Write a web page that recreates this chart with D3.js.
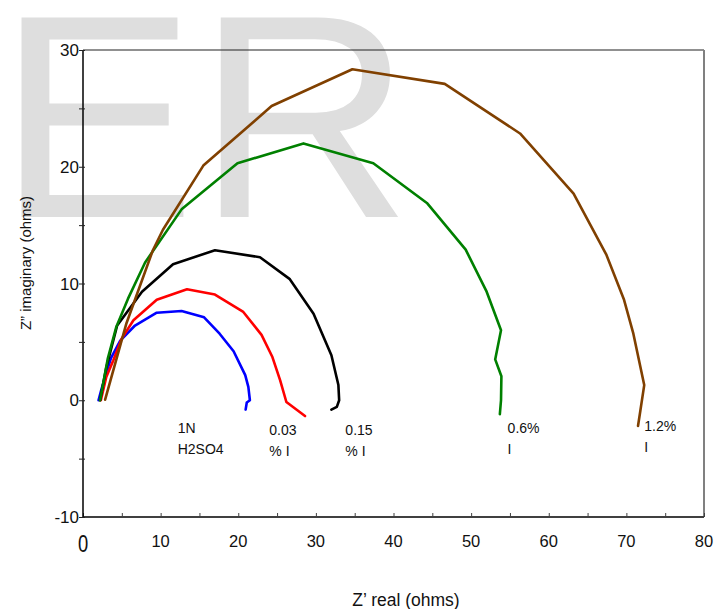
<!DOCTYPE html>
<html>
<head>
<meta charset="utf-8">
<script src="https://cdn.jsdelivr.net/npm/d3@7"></script>
<style>
  body { margin: 0; background: #fff; }
  text { font-family: "Liberation Sans", Arial, sans-serif; }
</style>
</head>
<body>
<div id="chart"></div>
<script>
// Nyquist data (Z' real, Z'' imaginary)
const blueData = [[2.0,0],[2.4,1.0],[3.6,3.6],[4.8,5.1],[6.7,6.4],[9.5,7.5],[12.7,7.65],[15.6,7.1],[17.6,5.7],[19.4,4.2],[20.9,2.15],[21.3,1.15],[21.5,0],[21.1,-0.2],[20.95,-0.8]]
const redData = [[2.3,0],[3.0,2.0],[3.9,3.4],[5.0,5.3],[6.5,6.85],[9.5,8.6],[13.4,9.5],[17.0,9.05],[20.6,7.6],[23.0,5.6],[24.4,3.7],[25.4,1.7],[26.2,-0.15],[28.6,-1.35]]
const blackData = [[2.2,0],[3.0,2.8],[4.4,6.4],[7.6,9.3],[11.6,11.65],[17.0,12.85],[22.8,12.25],[26.6,10.4],[29.7,7.4],[32.0,3.85],[32.9,1.3],[33.0,0],[32.7,-0.57],[32.0,-0.8]]
const greenData = [[2.2,0],[3.2,3.6],[4.3,6.3],[5.8,8.7],[8.0,11.8],[12.7,16.35],[19.9,20.3],[28.4,22.0],[37.4,20.3],[44.3,16.9],[49.3,12.9],[52.0,9.3],[53.85,6.0],[53.1,3.5],[53.9,2.05],[53.85,0],[53.7,-1.2]]
const brownData = [[2.85,0.05],[5.6,6.6],[9.0,12.85],[10.3,14.6],[15.5,20.1],[24.3,25.2],[34.7,28.35],[46.6,27.1],[56.3,22.85],[63.2,17.7],[67.4,12.5],[69.7,8.6],[70.9,5.7],[72.3,1.3],[71.8,-0.9],[71.5,-2.2]]

const seriesColors = ["#0000ff", "#ff0000", "#000000", "#008000", "#804000"]
const seriesData = [blueData, redData, blackData, greenData, brownData]

// Annotation text next to each curve
const notes = [
    {x: 12.2, y: -2.8, lines: ["1N", "H2SO4"]},
    {x: 24.0, y: -3.0, lines: ["0.03", "% I"]},
    {x: 33.8, y: -3.0, lines: ["0.15", "% I"]},
    {x: 54.7, y: -2.8, lines: ["0.6%", "I"]},
    {x: 72.3, y: -2.65, lines: ["1.2%", "I"]}
]

const xTicks = [10, 20, 30, 40, 50, 60, 70, 80]
const yTicks = [30, 20, 10, 0, -10]

// Set up chart dimensions
const W = 727, H = 609
const plot = {left: 83, top: 50, right: 704, bottom: 517}

const svg = d3.select("#chart").append("svg")
    .attr("width", W)
    .attr("height", H)

// Watermark behind everything
svg.append("text")
    .attr("x", -3)
    .attr("y", 217)
    .attr("font-size", 290)
    .attr("fill", "#dedede")
    .attr("transform", "translate(-3,0) scale(1.03,1) translate(3,0)")
    .text("ER")

const x = d3.scaleLinear().domain([0, 80]).range([plot.left, plot.right])
const y = d3.scaleLinear().domain([-10, 30]).range([plot.bottom, plot.top])

// Frame: top and right thin lines
svg.append("line")
    .attr("x1", plot.left).attr("x2", plot.right)
    .attr("y1", plot.top).attr("y2", plot.top)
    .attr("stroke", "#222").attr("stroke-width", 1.2)
svg.append("line")
    .attr("x1", plot.right).attr("x2", plot.right)
    .attr("y1", plot.top).attr("y2", plot.bottom)
    .attr("stroke", "#808080").attr("stroke-width", 2)

// Axes with minor ticks every 5
const xAxis = d3.axisBottom(x).tickValues(d3.range(0, 81, 5)).tickSize(-4).tickFormat("")
const yAxis = d3.axisLeft(y).tickValues(d3.range(-10, 31, 5)).tickSize(4).tickFormat("")

svg.append("g")
    .attr("transform", "translate(0," + plot.bottom + ")")
    .call(xAxis)
    .call(g => g.select(".domain").attr("stroke", "#404040").attr("stroke-width", 2).attr("d", `M${plot.left},0H${plot.right}`))
    .call(g => g.selectAll(".tick line").attr("stroke", "#404040"))

svg.append("g")
    .attr("transform", "translate(" + plot.left + ",0)")
    .call(yAxis)
    .call(g => g.select(".domain").attr("stroke", "#000").attr("stroke-width", 1.5).attr("d", `M0,${plot.top}V${plot.bottom}`))
    .call(g => g.selectAll(".tick line").attr("x1", 2).attr("x2", -4).attr("stroke", "#222"))

// Tick labels
svg.selectAll(".xlab")
    .data(xTicks)
    .enter().append("text")
    .attr("class", "xlab")
    .attr("x", d => x(d))
    .attr("y", 547)
    .attr("text-anchor", "middle")
    .attr("font-size", 16.5)
    .attr("fill", "#111")
    .text(d => d)

svg.append("text")
    .attr("x", x(0))
    .attr("y", 552)
    .attr("text-anchor", "middle")
    .attr("font-size", 23)
    .attr("transform", `translate(${x(0)},0) scale(0.8,1) translate(${-x(0)},0)`)
    .attr("fill", "#111")
    .text("0")

svg.selectAll(".ylab")
    .data(yTicks)
    .enter().append("text")
    .attr("class", "ylab")
    .attr("x", 79)
    .attr("y", d => y(d) + 6)
    .attr("text-anchor", "end")
    .attr("font-size", 17)
    .attr("fill", "#111")
    .text(d => d)

// Axis titles
svg.append("text")
    .attr("x", 406)
    .attr("y", 606)
    .attr("text-anchor", "middle")
    .attr("font-size", 17.5)
    .attr("fill", "#111")
    .text("Z\u2019 real (ohms)")

svg.append("text")
    .attr("transform", "translate(31,263) rotate(-90)")
    .attr("text-anchor", "middle")
    .attr("font-size", 15)
    .attr("fill", "#111")
    .text("Z\u201d imaginary (ohms)")

// Curves
const line = d3.line()
    .x(d => x(d[0]))
    .y(d => y(d[1]))

svg.selectAll(".curve")
    .data(seriesData)
    .enter().append("path")
    .attr("class", "curve")
    .attr("fill", "none")
    .attr("stroke", (d, i) => seriesColors[i])
    .attr("stroke-width", 2.6)
    .attr("stroke-linejoin", "round")
    .attr("stroke-linecap", "round")
    .attr("d", line)

// Annotations
notes.forEach(n => {
    const t = svg.append("text")
        .attr("x", x(n.x))
        .attr("y", y(n.y))
        .attr("font-size", 14)
        .attr("fill", "#111")
    n.lines.forEach((s, i) => {
        t.append("tspan")
            .attr("x", x(n.x))
            .attr("dy", i === 0 ? 0 : 21)
            .text(s)
    })
})
</script>
</body>
</html>
